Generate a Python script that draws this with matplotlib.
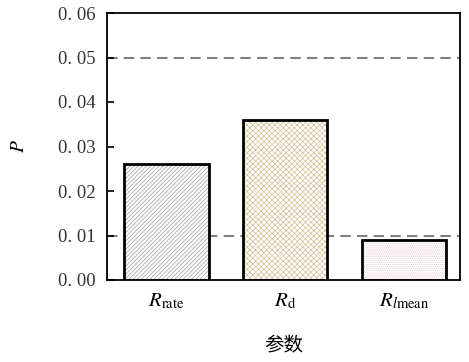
import matplotlib
matplotlib.use("Agg")
import matplotlib.pyplot as plt

plt.rcParams['font.family'] = ['Liberation Serif', 'Noto Sans CJK SC']
plt.rcParams['mathtext.fontset'] = 'stix'
plt.rcParams['hatch.linewidth'] = 0.5

# significance (P) of each parameter
labels = [r'$R_{\mathrm{rate}}$', r'$R_{\mathrm{d}}$', r'$R_{l\mathrm{mean}}$']
p_values = [0.026, 0.036, 0.009]
hatches = ['////////', 'xxxxxx', '........']
hatch_colors = ['#9a9a9a', '#d4bd92', '#e8c4cc']
thresholds = [0.05, 0.01]
yticks = [0.00, 0.01, 0.02, 0.03, 0.04, 0.05, 0.06]

fig = plt.figure(figsize=(4.69, 3.62), dpi=100)
ax = fig.add_axes([107 / 469, 1 - 280 / 362, 353 / 469, 267 / 362])

x = range(len(p_values))
for i, (p, h, c) in enumerate(zip(p_values, hatches, hatch_colors)):
    ax.bar(i, p, width=0.71, facecolor='white', edgecolor=c, hatch=h,
           linewidth=0, zorder=2)
    ax.bar(i, p, width=0.71, facecolor='none', edgecolor='black',
           linewidth=2, zorder=3)

for t in thresholds:
    ax.axhline(t, color='#808080', linestyle=(0, (5, 3)), linewidth=1.5, zorder=1)

ax.set_xlim(-0.5, 2.47)
ax.set_ylim(0, 0.06)
ax.set_yticks(yticks)
ax.set_yticklabels([f'{v:.2f}'.replace('.', '. ') for v in yticks],
                   fontsize=13.5, color='#333333')
ax.set_xticks(list(x))
ax.set_xticklabels(labels, fontsize=15)
ax.tick_params(direction='in', length=5, width=1.2)
ax.tick_params(axis='y', pad=8)
ax.tick_params(axis='x', pad=8)
for s in ax.spines.values():
    s.set_linewidth(1.3)

ax.set_ylabel(r'$P$', fontsize=14, labelpad=22)
ax.set_xlabel('参数', fontsize=14, labelpad=18, family=['Noto Sans CJK SC'])

fig.savefig('out.png', dpi=100)
